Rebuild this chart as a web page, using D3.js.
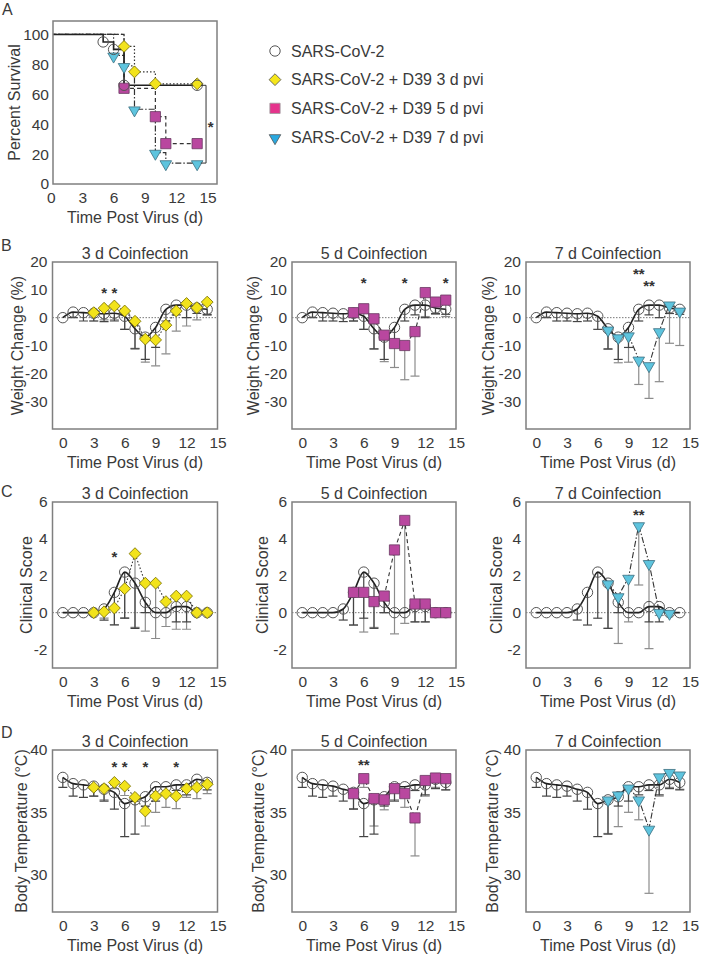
<!DOCTYPE html>
<html><head><meta charset="utf-8">
<script src="https://cdn.jsdelivr.net/npm/d3@7"></script>
<style>
body{margin:0;background:#fff;}
</style></head><body>
<svg id="chart" width="704" height="960"></svg>
<script>
// ---------------- DATA ----------------
const days = [0,1,2,3,4,5,6,7,8,9,10,11,12,13,14];
const xTicks = [0,3,6,9,12,15];
const xTickLabels = ["0","3","6","9","12","15"];

// Panel A: survival (Kaplan-Meier steps)
const survTicks = [0,20,40,60,80,100];
const survTickLabels = ["0","20","40","60","80","100"];
const survDaysSARS = [0,5,6,7,14];
const survSARS     = [100,95,90,66,66];
const survDays3d   = [0,7,8,10,14];
const surv3d       = [100,92,75,67,67];
const survDays5d   = [0,7,10,11,14];
const surv5d       = [100,64,45,27,27];
const survDays7d   = [0,6,7,8,10,11,14];
const surv7d       = [100,86,79,50,21,14,14];

const legendLabels = ["SARS-CoV-2","SARS-CoV-2 + D39 3 d pvi","SARS-CoV-2 + D39 5 d pvi","SARS-CoV-2 + D39 7 d pvi"];
const panelTitles = ["3 d Coinfection","5 d Coinfection","7 d Coinfection"];

// Panel B: weight change (%)
const weightTicks = [20,10,0,-10,-20,-30];
const weightTickLabels = ["20","10","0","-10","-20","-30"];
const weightSARS    = [0,2,1.8,1.6,1.4,1.6,0.5,-4,-7,-3.5,3,4.5,4.5,3.5,3];
const weightSARSlow = [null,0,-1.2,-1.2,-1.4,-1.2,-4.2,-11.2,-15,-10.7,-1.2,1,0,1.5,1.2];
const weight3d      = [null,null,null,1.8,3.4,4.2,2.4,-1.3,-7.7,-8,-2.7,2.4,5.1,3.6,5.6];
const weight3dLow   = [null,null,null,-1.2,-0.8,-0.8,-4.2,-11,-16,-17.3,-13,-4.8,-3,-0.8,0.8];
const weight5d      = [null,null,null,null,null,1.8,3.2,-0.4,-6.3,-9.3,-10,-5,9,5.6,6.3];
const weight5dLow   = [null,null,null,null,null,-1.2,-4.2,-11.3,-15.8,-17.9,-22.3,-21,0.4,1.2,0.4];
const weight7d      = [null,null,null,null,null,null,null,-4.2,-7,-6.3,-15,-17,-4.8,4.8,2.6];
const weight7dLow   = [null,null,null,null,null,null,null,-11.4,-16.2,-16,-24,-29,-23,-9.2,-10];
const weightStars3d = [[4,10,"*"],[5,10,"*"]];
const weightStars5d = [[6,13.5,"*"],[10,13.5,"*"],[14,13.5,"*"]];
const weightStars7d = [[10,16.8,"**"],[11,12.3,"**"]];

// Panel C: clinical score
const clinTicks = [6,4,2,0,-2];
const clinTickLabels = ["6","4","2","0","-2"];
const clinSARS    = [0,0,0,0,0.2,1.1,2.2,1.6,0.56,0,0,0.33,0.33,0,0];
const clinSARSlow = [null,null,null,null,-0.4,-0.67,-0.3,-0.85,0,null,null,-0.5,-0.5,null,null];
const clin3d      = [null,null,null,0,0.05,0.25,1.3,3.2,1.6,1.6,0.6,0.9,0.9,0,0];
const clin3dLow   = [null,null,null,null,-0.3,-0.65,-0.3,-0.8,-1.0,-1.4,-0.75,-0.9,-0.9,null,null];
const clin5d      = [null,null,null,null,null,1.1,1.1,0.6,0.9,3.4,5,0.47,0.47,0,0];
const clin5dLow   = [null,null,null,null,null,-0.67,-1.05,-0.8,0,-1.15,-0.58,-0.5,-0.5,null,null];
const clin7d      = [null,null,null,null,null,null,null,1.6,0.9,1.9,4.75,2.7,0.05,0,null];
const clin7dLow   = [null,null,null,null,null,null,null,-0.85,-1.67,-0.5,1.5,-1.95,-0.15,null,null];
const clinStars3d = [[5,3.2,"*"]];
const clinStars5d = [];
const clinStars7d = [[10,5.45,"**"]];

// Panel D: body temperature (°C)
const tempTicks = [40,35,30];
const tempTickLabels = ["40","35","30"];
const tempSARS    = [37.8,37.3,37.2,37.1,36.85,36.6,35.7,36.0,36.25,37.05,37.05,37.2,37.2,37.65,37.4];
const tempSARSlow = [37.0,36.3,36.2,36.3,35.9,35.25,33.05,33.25,35.5,35.9,36.4,36.75,36.4,36.9,36.8];
const temp3d      = [null,null,null,37.0,36.9,37.4,37.1,36.2,35.1,36.3,36.5,36.3,36.9,37.0,37.25];
const temp3dLow   = [null,null,null,36.3,36.0,36.9,36.35,35.9,33.9,35.0,35.4,35.3,36.2,36.1,36.5];
const temp5d      = [null,null,null,null,null,36.5,37.7,36.1,36.0,36.9,36.5,34.55,37.55,37.75,37.7];
const temp5dLow   = [null,null,null,null,null,35.3,37.0,33.9,35.2,36.0,35.4,31.5,36.3,37.0,36.8];
const temp7d      = [null,null,null,null,null,null,null,36.05,36.45,37.0,36.05,33.7,37.9,38.25,38.05];
const temp7dLow   = [null,null,null,null,null,null,null,33.3,33.85,35.0,34.4,28.5,36.3,37.0,36.85];
const tempStars3d = [[5,38.9,"*"],[6,38.9,"*"],[8,38.9,"*"],[11,38.9,"*"]];
const tempStars5d = [[6,39.05,"**"]];
const tempStars7d = [];

// ---------------- STYLE ----------------
const FONT = "Arial, 'Liberation Sans', Helvetica, sans-serif";
const TXT = "#3a3a3a";
const COL = {sars:"#ffffff", d3:"#f2e31b", d5:"#b9479f", d7:"#5ec4de"};
const LEG = {sars:"#ffffff", d3:"#f5e61a", d5:"#e5338c", d7:"#2aa9e0"};
const DASH = {sars:null, d3:"1.5,2", d5:"4,3", d7:"6,2,1.5,2"};
const TYPE = {sars:"circle", d3:"diamond", d5:"square", d7:"triangle"};

const svg = d3.select("#chart");

function drawMarker(g, type, cx, cy, fill, stroke){
  if(type==="circle"){
    g.append("circle").attr("cx",cx).attr("cy",cy).attr("r",5.2)
      .attr("fill","none").attr("stroke",stroke||"#555").attr("stroke-width",1);
  } else if(type==="diamond"){
    g.append("path").attr("d",d3.symbol().type(d3.symbolSquare).size(70)())
      .attr("transform",`translate(${cx},${cy}) rotate(45)`)
      .attr("fill",fill).attr("stroke",stroke||"#7a7000").attr("stroke-width",0.8);
  } else if(type==="square"){
    g.append("path").attr("d",d3.symbol().type(d3.symbolSquare).size(105)())
      .attr("transform",`translate(${cx},${cy})`)
      .attr("fill",fill).attr("stroke",stroke||"#6a3a62").attr("stroke-width",0.8);
  } else {
    g.append("path").attr("d",d3.symbol().type(d3.symbolTriangle).size(58)())
      .attr("transform",`translate(${cx},${cy+1}) rotate(180)`)
      .attr("fill",fill).attr("stroke",stroke||"#3c6f80").attr("stroke-width",0.8);
  }
}

let clipId = 0;
function frame(opt){
  const g = svg.append("g");
  const x = d3.scaleLinear().domain(opt.xDomain).range([opt.left, opt.right]);
  const y = d3.scaleLinear().domain(opt.yDomain).range([opt.bottom, opt.top]);
  const id = "clip"+(clipId++);
  g.append("clipPath").attr("id",id).append("rect")
    .attr("x",opt.left).attr("y",opt.top).attr("width",opt.right-opt.left).attr("height",opt.bottom-opt.top);
  const ax = g.append("g").attr("transform",`translate(0,${opt.bottom})`)
    .call(d3.axisBottom(x).tickValues(opt.xTicks).tickFormat((d,i)=>opt.xLabels[i]).tickSize(0).tickPadding(8));
  ax.select(".domain").remove();
  ax.selectAll("text").attr("font-size",15.5).attr("font-family",FONT).attr("fill",TXT);
  const ay = g.append("g").attr("transform",`translate(${opt.left},0)`)
    .call(d3.axisLeft(y).tickValues(opt.yTicks).tickFormat((d,i)=>opt.yLabels[i]).tickSize(0).tickPadding(opt.yPad||5));
  ay.select(".domain").remove();
  ay.selectAll("text").attr("font-size",15.5).attr("font-family",FONT).attr("fill",TXT);
  // x title
  g.append("text").attr("x",(opt.left+opt.right)/2).attr("y",opt.bottom+39)
    .attr("text-anchor","middle").attr("font-size",16).attr("font-family",FONT).attr("fill",TXT)
    .text("Time Post Virus (d)");
  // y title
  g.append("text").attr("transform",`translate(${opt.yTitleX},${(opt.top+opt.bottom)/2}) rotate(-90)`)
    .attr("text-anchor","middle").attr("dy","0.35em").attr("font-size",16).attr("font-family",FONT).attr("fill",TXT)
    .text(opt.yTitle);
  if(opt.title){
    g.append("text").attr("x",(opt.left+opt.right)/2).attr("y",opt.top-3.5)
      .attr("text-anchor","middle").attr("font-size",16).attr("font-family",FONT).attr("fill",TXT)
      .text(opt.title);
  }
  if(opt.zeroLine){
    g.append("line").attr("x1",opt.left).attr("x2",opt.right).attr("y1",y(0)).attr("y2",y(0))
      .attr("stroke","#777").attr("stroke-width",1).attr("stroke-dasharray","1.5,1.5");
  }
  const inner = g.append("g").attr("clip-path",`url(#${id})`);
  return {g, inner, x, y, opt};
}

function finishBox(f){
  const o = f.opt;
  f.g.append("rect").attr("x",o.left).attr("y",o.top).attr("width",o.right-o.left).attr("height",o.bottom-o.top)
    .attr("fill","none").attr("stroke","#7f7f7f").attr("stroke-width",1.5);
}

function timePanel(opt, sarsVals, sarsLow, key, vals, lows, stars){
  const f = frame(opt);
  const {inner, x, y} = f;
  const ptsS = days.map((d,i)=>({d, v:sarsVals[i], lo:sarsLow[i]}));
  const ptsC = days.map((d,i)=>({d, v:vals[i], lo:lows[i]})).filter(p=>p.v!==null);
  // error bars (coloured series)
  function bars(pts, color){
    pts.filter(p=>p.lo!==null && p.v!==null).forEach(p=>{
      inner.append("line").attr("x1",x(p.d)).attr("x2",x(p.d)).attr("y1",y(p.v)).attr("y2",y(p.lo))
        .attr("stroke",color).attr("stroke-width",1.2);
      inner.append("line").attr("x1",x(p.d)-4.5).attr("x2",x(p.d)+4.5).attr("y1",y(p.lo)).attr("y2",y(p.lo))
        .attr("stroke",color).attr("stroke-width",1.2);
    });
  }
  bars(ptsC, "#8c8c8c");
  bars(ptsS, "#444");
  // coloured series line
  inner.append("path").datum(ptsC)
    .attr("d", d3.line().x(p=>x(p.d)).y(p=>y(p.v)))
    .attr("fill","none").attr("stroke","#333").attr("stroke-width",1.1).attr("stroke-dasharray",DASH[key]);
  // SARS smooth line
  inner.append("path").datum(ptsS)
    .attr("d", d3.line().x(p=>x(p.d)).y(p=>y(p.v)).curve(d3.curveMonotoneX))
    .attr("fill","none").attr("stroke","#222").attr("stroke-width",1.6);
  ptsS.forEach(p=>drawMarker(inner,"circle",x(p.d),y(p.v),"none","#555"));
  ptsC.forEach(p=>drawMarker(inner,TYPE[key],x(p.d),y(p.v),COL[key]));
  stars.forEach(s=>{
    f.g.append("text").attr("x",x(s[0])).attr("y",y(s[1])+8).attr("text-anchor","middle")
      .attr("font-size",15).attr("font-weight","bold").attr("font-family",FONT).attr("fill","#333").text(s[2]);
  });
  finishBox(f);
}

// ---------------- PANEL A ----------------
{
  const f = frame({left:53,right:217,top:21,bottom:184,xDomain:[0.2,15.9],yDomain:[0,109],
    xTicks:xTicks,xLabels:xTickLabels,yTicks:survTicks,yLabels:survTickLabels,yPad:4,
    yTitle:"Percent Survival",yTitleX:14});
  const {inner, x, y} = f;
  const sets = [
    ["d7", survDays7d, surv7d],
    ["d5", survDays5d, surv5d],
    ["d3", survDays3d, surv3d],
    ["sars", survDaysSARS, survSARS]
  ];
  sets.forEach(([k, ds, vs])=>{
    const pts = ds.map((d,i)=>({d, v:vs[i]}));
    inner.append("path").datum(pts)
      .attr("d", d3.line().x(p=>x(p.d)).y(p=>y(p.v)).curve(d3.curveStepAfter))
      .attr("fill","none").attr("stroke", k==="sars"?"#222":"#333")
      .attr("stroke-width", k==="sars"?1.6:1.2).attr("stroke-dasharray",DASH[k]);
  });
  sets.forEach(([k, ds, vs])=>{
    ds.forEach((d,i)=>{ if(i>0) drawMarker(inner,TYPE[k],x(d),y(vs[i]),COL[k],k==="sars"?"#555":null); });
  });
  // significance bracket between SARS-CoV-2 and 7 d pvi
  const yTop = y(survSARS[survSARS.length-1]), yBot = y(surv7d[surv7d.length-1]);
  const bx0 = x(14.35), bx1 = x(14.85);
  f.g.append("path").attr("d",`M${bx0},${yTop}H${bx1}V${yBot}H${bx0}`)
    .attr("fill","none").attr("stroke","#333").attr("stroke-width",1);
  f.g.append("text").attr("x",x(15.3)).attr("y",(yTop+yBot)/2+8).attr("text-anchor","middle")
    .attr("font-size",15).attr("font-weight","bold").attr("font-family",FONT).attr("fill","#333").text("*");
  finishBox(f);
  f.g.append("text").attr("x",2).attr("y",15).attr("font-size",16).attr("font-family",FONT).attr("fill",TXT).text("A");

  // legend
  const lg = svg.append("g");
  const keys = ["sars","d3","d5","d7"];
  const ly = d3.scalePoint().domain(keys).range([51,137]);
  keys.forEach((k,i)=>{
    drawMarker(lg, TYPE[k], 275, ly(k), LEG[k], k==="sars"?"#555":(k==="d5"?"#999":"#555"));
    lg.append("text").attr("x",291).attr("y",ly(k)+5.6).attr("font-size",16).attr("font-family",FONT)
      .attr("fill",TXT).text(legendLabels[i]);
  });
}

// ---------------- PANELS B, C, D ----------------
const cols = [
  {left:52.5,right:217.5,key:"d3"},
  {left:292,right:456,key:"d5"},
  {left:526,right:690,key:"d7"}
];
const rows = [
  {letter:"B",letterY:251,top:262,bottom:429,yDomain:[-40,20],yTicks:weightTicks,yLabels:weightTickLabels,
   yTitle:"Weight Change (%)",zero:true,titleX:[17,253,488],
   sars:weightSARS,sarsLow:weightSARSlow,
   series:[[weight3d,weight3dLow,weightStars3d],[weight5d,weight5dLow,weightStars5d],[weight7d,weight7dLow,weightStars7d]]},
  {letter:"C",letterY:497,top:502,bottom:668,yDomain:[-3,6],yTicks:clinTicks,yLabels:clinTickLabels,
   yTitle:"Clinical Score",zero:true,titleX:[26,262,496],
   sars:clinSARS,sarsLow:clinSARSlow,
   series:[[clin3d,clin3dLow,clinStars3d],[clin5d,clin5dLow,clinStars5d],[clin7d,clin7dLow,clinStars7d]]},
  {letter:"D",letterY:738,top:750,bottom:912,yDomain:[27,40],yTicks:tempTicks,yLabels:tempTickLabels,
   yTitle:"Body Temperature (°C)",zero:false,titleX:[21,258,492],
   sars:tempSARS,sarsLow:tempSARSlow,
   series:[[temp3d,temp3dLow,tempStars3d],[temp5d,temp5dLow,tempStars5d],[temp7d,temp7dLow,tempStars7d]]}
];
rows.forEach(r=>{
  svg.append("text").attr("x",1).attr("y",r.letterY).attr("font-size",16).attr("font-family",FONT)
    .attr("fill",TXT).text(r.letter);
  cols.forEach((c,ci)=>{
    const s = r.series[ci];
    timePanel({left:c.left,right:c.right,top:r.top,bottom:r.bottom,xDomain:[-1,15],yDomain:r.yDomain,
      xTicks:xTicks,xLabels:xTickLabels,yTicks:r.yTicks,yLabels:r.yLabels,
      yTitle:r.yTitle,yTitleX:r.titleX[ci],title:panelTitles[ci],zeroLine:r.zero},
      r.sars, r.sarsLow, c.key, s[0], s[1], s[2]);
  });
});
</script>
</body></html>
